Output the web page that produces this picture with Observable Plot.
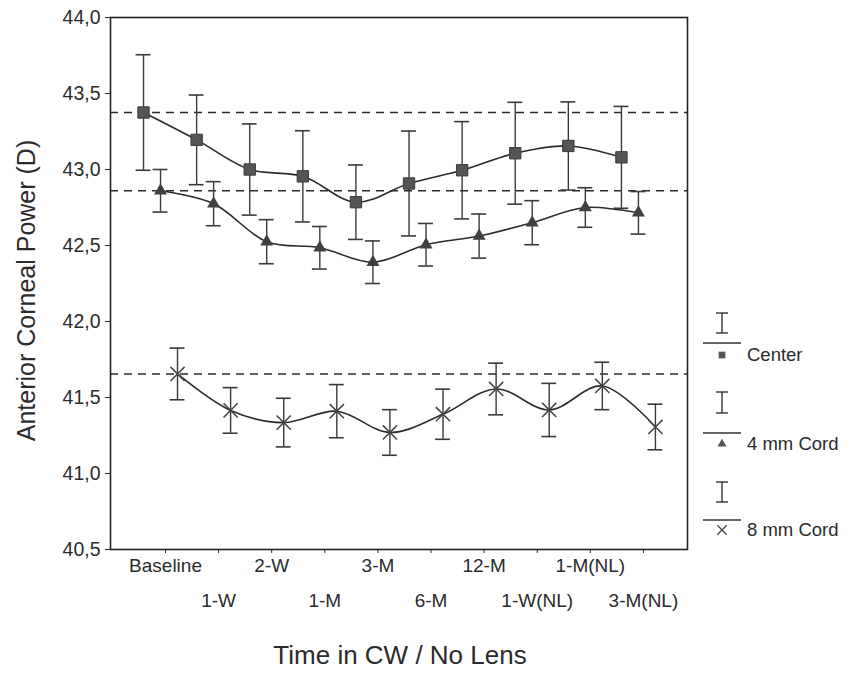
<!DOCTYPE html>
<html><head><meta charset="utf-8">
<script src="https://cdn.jsdelivr.net/npm/d3@7"></script>
<script src="https://cdn.jsdelivr.net/npm/@observablehq/plot@0.6"></script>
<style>
html,body{margin:0;padding:0;background:#fff;}
#wrap{position:relative;width:851px;height:678px;font-family:"Liberation Sans",Arial,sans-serif;}
#legend{position:absolute;left:0;top:0;pointer-events:none;}
</style></head><body><div id="wrap"></div>
<script>
const categories = ["Baseline","1-W","2-W","1-M","3-M","6-M","12-M","1-W(NL)","1-M(NL)","3-M(NL)"];
const seriesNames = ["Center","4 mm Cord","8 mm Cord"];
const centerMean = [43.375, 43.195, 43.00, 42.955, 42.785, 42.908, 42.995, 43.107, 43.155, 43.08];
const centerErr  = [0.38, 0.295, 0.30, 0.30, 0.245, 0.345, 0.32, 0.335, 0.29, 0.335];
const cord4Mean  = [42.86, 42.775, 42.525, 42.485, 42.39, 42.505, 42.562, 42.65, 42.75, 42.715];
const cord4Err   = [0.14, 0.145, 0.145, 0.14, 0.14, 0.14, 0.145, 0.145, 0.13, 0.14];
const cord8Mean  = [41.655, 41.415, 41.335, 41.41, 41.27, 41.39, 41.556, 41.418, 41.576, 41.306];
const cord8Err   = [0.17, 0.15, 0.16, 0.175, 0.15, 0.165, 0.17, 0.175, 0.156, 0.15];
const yTicks = [40.5, 41.0, 41.5, 42.0, 42.5, 43.0, 43.5, 44.0];
const baselineRefs = [centerMean[0], cord4Mean[0], cord8Mean[0]];

const seriesDefs = [
  {name: seriesNames[0], mean: centerMean, err: centerErr, offset: -0.414},
  {name: seriesNames[1], mean: cord4Mean, err: cord4Err, offset: -0.094},
  {name: seriesNames[2], mean: cord8Mean, err: cord8Err, offset: 0.226}
];
const rows = [];
seriesDefs.forEach(s => s.mean.forEach((m, i) => rows.push({series: s.name, i, x: i + s.offset, mean: m, lo: m - s.err[i], hi: m + s.err[i]})));
const idx = categories.map((c, i) => i);
const evens = idx.filter(i => i % 2 === 0);
const odds = idx.filter(i => i % 2 === 1);
const capHalf = 0.14;
const fmt = v => v.toFixed(1).replace(".", ",");
const ink = "#2b2b2b";

const plot = Plot.plot({
  width: 851, height: 678,
  marginLeft: 110, marginRight: 164, marginTop: 17, marginBottom: 129,
  style: {fontFamily: "'Liberation Sans', Arial, sans-serif", color: ink, background: "#fff"},
  x: {domain: [-1.036, 9.83]},
  y: {domain: [40.5, 44]},
  marks: [
    Plot.ruleY(baselineRefs, {stroke: ink, strokeWidth: 1.6, strokeDasharray: "8,6"}),
    Plot.line(rows, {x: "x", y: "mean", z: "series", curve: "catmull-rom", stroke: ink, strokeWidth: 1.6}),
    Plot.ruleX(rows, {x: "x", y1: "lo", y2: "hi", stroke: "#3a3a3a", strokeWidth: 1.4}),
    Plot.ruleY(rows, {y: "lo", x1: d => d.x - capHalf, x2: d => d.x + capHalf, stroke: "#3a3a3a", strokeWidth: 1.6}),
    Plot.ruleY(rows, {y: "hi", x1: d => d.x - capHalf, x2: d => d.x + capHalf, stroke: "#3a3a3a", strokeWidth: 1.6}),
    Plot.dot(rows.filter(d => d.series === seriesNames[0]), {x: "x", y: "mean", symbol: "square", r: 6.4, fill: "#555", stroke: "#3a3a3a", strokeWidth: 1}),
    Plot.dot(rows.filter(d => d.series === seriesNames[1]), {x: "x", y: "mean", symbol: "triangle", r: 4.8, fill: "#404040", stroke: "none"}),
    Plot.dot(rows.filter(d => d.series === seriesNames[2]), {x: "x", y: "mean", symbol: "times", r: 6.5, stroke: "#444", strokeWidth: 1.5}),
    Plot.frame({stroke: "#222", strokeWidth: 1.6}),
    Plot.axisY({ticks: yTicks, tickFormat: fmt, tickSize: 5, tickPadding: 5, fontSize: 19.5, label: null}),
    Plot.axisX({ticks: evens, tickFormat: i => categories[i], tickSize: 4, tickPadding: 5, fontSize: 19, label: null}),
    Plot.axisX({ticks: odds, tickFormat: i => categories[i], tickSize: 4, tickPadding: 40, fontSize: 19, label: null}),
    Plot.text(["Anterior Corneal Power (D)"], {frameAnchor: "left", textAnchor: "middle", rotate: -90, dx: -84, dy: 7, fontSize: 25, fill: ink}),
    Plot.text(["Time in CW / No Lens"], {frameAnchor: "bottom", textAnchor: "middle", dy: 114, dx: 1, fontSize: 26, fill: ink})
  ]
});
const wrap = document.getElementById("wrap");
wrap.appendChild(plot);

// legend
const lg = d3.select(wrap).append("svg").attr("id", "legend").attr("width", 851).attr("height", 678);
const items = [
  {label: seriesNames[0], barTop: 313, barBot: 333, lineY: 343, symY: 355, sym: "square"},
  {label: seriesNames[1], barTop: 392, barBot: 413, lineY: 433, symY: 444, sym: "triangle"},
  {label: seriesNames[2], barTop: 482, barBot: 502, lineY: 520, symY: 530, sym: "times"}
];
const lx = 722;
items.forEach(it => {
  const g = lg.append("g").attr("stroke", "#333").attr("stroke-width", 1.4).attr("fill", "none");
  g.append("line").attr("x1", lx).attr("x2", lx).attr("y1", it.barTop).attr("y2", it.barBot);
  g.append("line").attr("x1", lx - 6).attr("x2", lx + 6).attr("y1", it.barTop).attr("y2", it.barTop);
  g.append("line").attr("x1", lx - 6).attr("x2", lx + 6).attr("y1", it.barBot).attr("y2", it.barBot);
  g.append("line").attr("x1", 703).attr("x2", 741).attr("y1", it.lineY).attr("y2", it.lineY).attr("stroke-width", 1.6);
  const sym = {square: d3.symbolSquare, triangle: d3.symbolTriangle, times: d3.symbolTimes}[it.sym];
  const size = it.sym === "square" ? 45 : it.sym === "triangle" ? 35 : 60;
  lg.append("path").attr("d", d3.symbol(sym, size)()).attr("transform", `translate(${lx},${it.symY})`)
    .attr("fill", it.sym === "times" ? "none" : "#555").attr("stroke", it.sym === "times" ? "#444" : "none").attr("stroke-width", 1.3);
  lg.append("text").attr("x", 747).attr("y", it.symY).attr("dy", "0.35em").attr("font-size", 18.5)
    .attr("fill", ink).attr("font-family", "'Liberation Sans', Arial, sans-serif").text(it.label);
});
</script></body></html>
